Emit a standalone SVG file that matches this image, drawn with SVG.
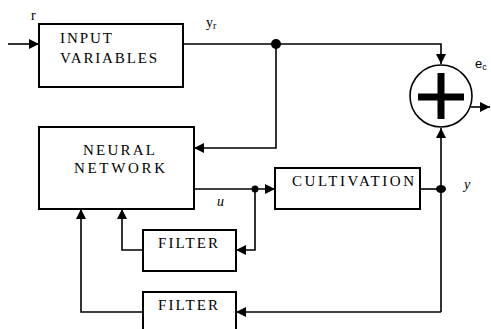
<svg xmlns="http://www.w3.org/2000/svg" width="491" height="329" viewBox="0 0 491 329">
<style>
.box{fill:#fff;stroke:#000;stroke-width:2}
.ln{fill:none;stroke:#000;stroke-width:1.6}
</style>
<defs>
<marker id="ah" markerWidth="10" markerHeight="10" refX="10" refY="5" orient="auto" markerUnits="userSpaceOnUse" viewBox="0 0 10 10"><path d="M0,0 L10,5 L0,10 Z" fill="#000"/></marker>
</defs>
<g id="connectors">
<path class="ln" d="M8,44 H39" marker-end="url(#ah)"/>
<path class="ln" d="M183,44 H441 V64" marker-end="url(#ah)"/>
<path class="ln" d="M276,44 V148 H194" marker-end="url(#ah)"/>
<circle cx="276" cy="44" r="5" fill="#000"/>
<path class="ln" d="M471,107 H490" marker-end="url(#ah)"/>
<path class="ln" d="M194,189 H275" marker-end="url(#ah)"/>
<circle cx="255" cy="189" r="3.5" fill="#000"/>
<path class="ln" d="M255,189 V250 H236" marker-end="url(#ah)"/>
<path class="ln" d="M143,250 H122 V209" marker-end="url(#ah)"/>
<path class="ln" d="M420,189 H441"/>
<path class="ln" d="M441,312 V128" marker-end="url(#ah)"/>
<ellipse cx="441" cy="189" rx="5" ry="4" fill="#000"/>
<path class="ln" d="M441,312 H236" marker-end="url(#ah)"/>
<path class="ln" d="M143,312 H81 V209" marker-end="url(#ah)"/>
</g>
<g font-family="Liberation Serif, serif" font-size="15" fill="#000">
<g id="input">
<rect class="box" x="39" y="24" width="144" height="63"/>
<text x="60" y="43" textLength="52" lengthAdjust="spacing">INPUT</text>
<text x="60" y="63" textLength="97" lengthAdjust="spacing">VARIABLES</text>
</g>
<g id="nn">
<rect class="box" x="39" y="127" width="155" height="82"/>
<text x="83" y="155" textLength="72" lengthAdjust="spacing">NEURAL</text>
<text x="74" y="173" textLength="91" lengthAdjust="spacing">NETWORK</text>
</g>
<g id="cultivation">
<rect class="box" x="275" y="168" width="145" height="41"/>
<text x="292" y="186" textLength="122" lengthAdjust="spacing">CULTIVATION</text>
</g>
<g id="filter1">
<rect class="box" x="143" y="230" width="93" height="41"/>
<text x="158" y="248" textLength="60" lengthAdjust="spacing">FILTER</text>
</g>
<g id="filter2">
<rect class="box" x="143" y="292" width="93" height="45"/>
<text x="158" y="310" textLength="60" lengthAdjust="spacing">FILTER</text>
</g>
<g id="labels" font-size="14">
<text x="31" y="20">r</text>
<text x="206" y="27">y<tspan font-size="10" dy="2">r</tspan></text>
<text x="217" y="206" font-style="italic">u</text>
<text x="464" y="189" font-style="italic">y</text>
<text x="475" y="68" font-family="Liberation Sans, sans-serif" font-size="13">e<tspan font-size="9" dy="2">c</tspan></text>
</g>
</g>
<g id="sum">
<circle cx="441" cy="96" r="31" fill="#fff" stroke="#000" stroke-width="1.6"/>
<rect x="418" y="93.5" width="46" height="7" fill="#000"/>
<rect x="437.5" y="73" width="7" height="46" fill="#000"/>
</g>
</svg>
